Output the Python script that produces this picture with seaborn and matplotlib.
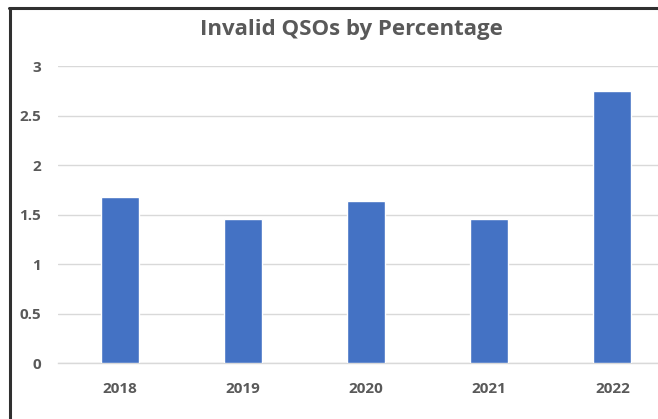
import matplotlib
matplotlib.use("Agg")
import matplotlib.pyplot as plt
import seaborn as sns
import pandas as pd

# values
years = ["2018", "2019", "2020", "2021", "2022"]
invalid_pct = [1.68, 1.45, 1.64, 1.45, 2.75]
y_ticks = [0, 0.5, 1, 1.5, 2, 2.5, 3]
y_tick_labels = ["0", "0.5", "1", "1.5", "2", "2.5", "3"]

df = pd.DataFrame({"year": years, "pct": invalid_pct})

sns.set_theme(style="white")
plt.rcParams["font.family"] = ["Open Sans", "DejaVu Sans"]

text_gray = "#595959"
bar_blue = "#4472C4"

fig = plt.figure(figsize=(6.58, 4.19), dpi=100)
fig.patch.set_facecolor("white")

# plot area runs past the right edge, as in the cropped screenshot
ax = fig.add_axes([58 / 658, 1 - 363 / 419, 616 / 658, 297 / 419])
sns.barplot(data=df, x="year", y="pct", color=bar_blue, width=0.31,
            saturation=1, ax=ax, zorder=3)

ax.set_ylim(0, 3)
ax.set_xlim(-0.5, 4.5)
ax.set_yticks(y_ticks)
ax.set_yticklabels(y_tick_labels)
ax.yaxis.grid(True, color="#D9D9D9", linewidth=1, zorder=0)
ax.set_axisbelow(True)
for side in ["top", "right", "left"]:
    ax.spines[side].set_visible(False)
ax.spines["bottom"].set_color("#D9D9D9")
ax.spines["bottom"].set_linewidth(1)
ax.tick_params(axis="y", length=0, pad=12, labelsize=11, labelcolor=text_gray)
ax.tick_params(axis="x", length=0, pad=14, labelsize=11, labelcolor=text_gray)
for lab in ax.get_xticklabels() + ax.get_yticklabels():
    lab.set_fontweight("bold")
ax.set_xlabel("")
ax.set_ylabel("")

fig.text(351 / 658, 1 - 29 / 419, "Invalid QSOs by Percentage", ha="center",
         va="center", fontsize=16, fontweight="bold", color=text_gray)

# dark frame of the original chart box (left and top sides visible)
fig.add_artist(plt.Line2D([9.5 / 658, 9.5 / 658], [0, 1 - 8.5 / 419],
                          transform=fig.transFigure, color="#303030", linewidth=2.2))
fig.add_artist(plt.Line2D([8.5 / 658, 1], [1 - 8.5 / 419, 1 - 8.5 / 419],
                          transform=fig.transFigure, color="#303030", linewidth=2.2))

fig.savefig("out.png", dpi=100)
